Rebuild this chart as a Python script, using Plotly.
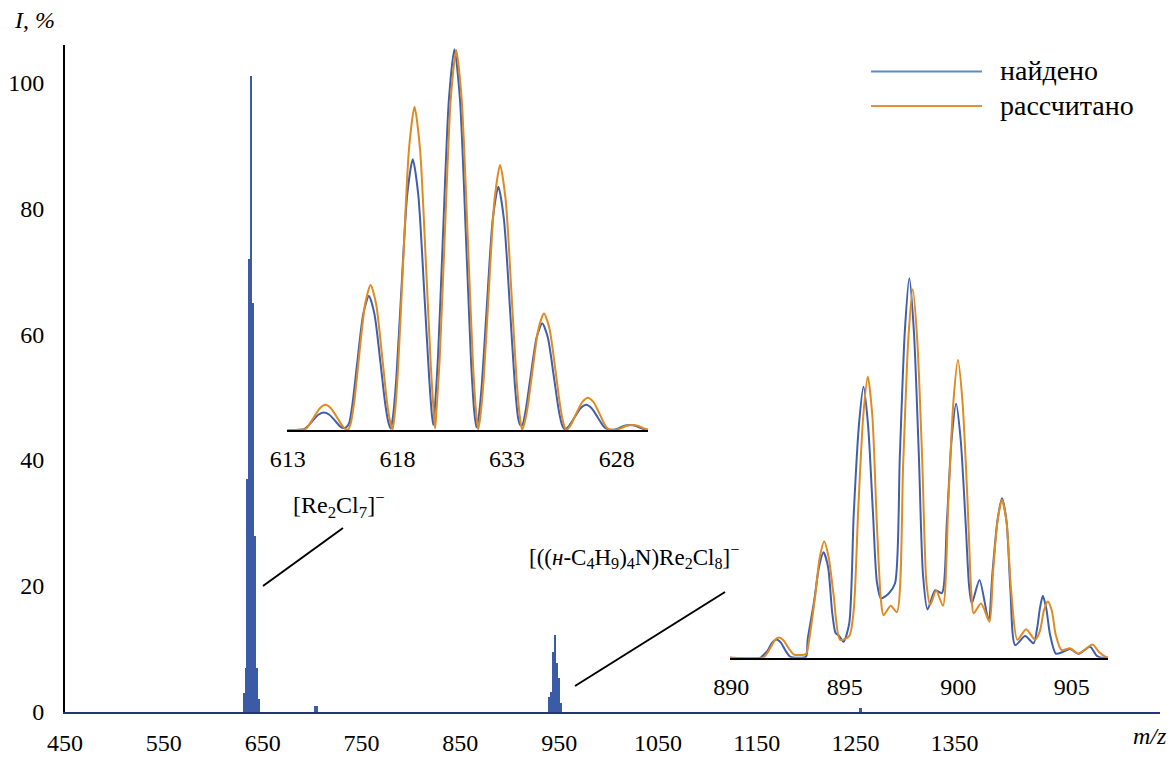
import plotly.graph_objects as go

# ---------------- data ----------------
# main spectrum sticks (m/z, intensity %)
main_mz = [631.2, 633.2, 634.7, 636.7, 638.6, 640.3, 642.3, 644.3, 646.4,
           704.0,
           939.9, 941.9, 943.9, 945.9, 947.9, 950.0, 952.0,
           1254.7]
main_int = [3, 7, 37, 72, 101, 65, 28, 7, 2,
            1.0,
            2.4, 3.2, 9.6, 12.2, 7.8, 5.4, 1.4,
            0.6]
main_w = [2.0, 2.0, 2.0, 2.0, 1.4, 2.0, 2.0, 2.0, 2.0,
          4.0,
          2.0, 2.0, 2.0, 1.5, 2.0, 2.0, 2.0,
          3.0]

main_ticks = [450, 550, 650, 750, 850, 950, 1050, 1150, 1250, 1350]
y_ticks = [0, 20, 40, 60, 80, 100]

# inset 1: [Re2Cl7]- isotope profile
in1_found_x = [613.0, 613.75, 613.9, 614.12, 614.4, 614.65, 614.9, 615.18, 615.4, 615.55, 615.68,
               615.8, 615.95, 616.17, 616.45, 616.7, 616.95, 617.23, 617.45, 617.6, 617.7,
               617.8, 617.95, 618.17, 618.45, 618.7, 618.95, 619.23, 619.45, 619.58, 619.64,
               619.7, 619.85, 620.07, 620.35, 620.6, 620.85, 621.13, 621.35, 621.5, 621.6,
               621.7, 621.85, 622.07, 622.35, 622.6, 622.85, 623.13, 623.35, 623.5, 623.6,
               623.7, 623.85, 624.07, 624.35, 624.6, 624.85, 625.13, 625.35, 625.5, 625.6,
               625.7, 625.85, 626.07, 626.35, 626.6, 626.85, 627.13, 627.35, 627.5, 627.7,
               627.9, 628.1, 628.35, 628.6, 628.85, 629.1, 629.3, 629.42]
in1_found_y = [0, 0.2, 0.9, 2.3, 4.0, 4.6, 4.0, 2.3, 0.9, 0.5, 0.8,
               1.8, 6.7, 17.6, 30.6, 35.2, 30.6, 17.6, 6.7, 1.8, 0.4,
               3.6, 13.5, 35.6, 61.9, 71.1, 61.9, 35.6, 13.5, 3.6, 1.3,
               5, 19, 50, 87, 100, 87, 50, 19, 5, 0.7,
               3.2, 12.1, 32, 55.6, 63.9, 55.6, 32, 12.1, 3.2, 1.3,
               1.4, 5.3, 14, 24.4, 28, 24.4, 14, 5.3, 1.4, 0.3,
               0.4, 1.3, 3.3, 5.7, 6.6, 5.7, 3.3, 1.3, 0.4, 0.1,
               0.1, 0.5, 1.1, 1.3, 1.1, 0.5, 0.1, 0]
in1_calc_x = [613.0, 613.82, 613.97, 614.19, 614.47, 614.72, 614.97, 615.25, 615.47, 615.62, 615.75,
              615.88, 616.03, 616.25, 616.53, 616.78, 617.03, 617.31, 617.53, 617.68, 617.78,
              617.88, 618.03, 618.25, 618.53, 618.78, 619.03, 619.31, 619.53, 619.66, 619.72,
              619.78, 619.93, 620.15, 620.43, 620.68, 620.93, 621.21, 621.43, 621.58, 621.68,
              621.78, 621.93, 622.15, 622.43, 622.68, 622.93, 623.21, 623.43, 623.58, 623.68,
              623.78, 623.93, 624.15, 624.43, 624.68, 624.93, 625.21, 625.43, 625.58, 625.68,
              625.78, 625.93, 626.15, 626.43, 626.68, 626.93, 627.21, 627.43, 627.58, 627.75,
              628.0, 628.2, 628.45, 628.7, 628.95, 629.2, 629.42]
in1_calc_y = [0, 0.3, 1.3, 3.3, 5.7, 6.6, 5.7, 3.3, 1.3, 0.3, 0.1,
              1.9, 7.2, 19.1, 33.1, 38.1, 33.1, 19.1, 7.2, 1.9, 0.1,
              4.2, 16.1, 42.5, 73.9, 84.9, 73.9, 42.5, 16.1, 4.2, 0.4,
              5, 19, 49.9, 86.8, 99.8, 86.8, 49.9, 19, 5, 0.1,
              3.5, 13.2, 34.8, 60.6, 69.6, 60.6, 34.8, 13.2, 3.5, 0.1,
              1.5, 5.8, 15.3, 26.6, 30.6, 26.6, 15.3, 5.8, 1.5, 0.1,
              0.4, 1.6, 4.3, 7.4, 8.5, 7.4, 4.3, 1.6, 0.4, 0.1,
              0.1, 0.5, 1.1, 1.3, 1.1, 0.5, 0.1]
in1_tickvals = [613, 618, 623, 628]
in1_ticktext = ["613", "618", "633", "628"]

# inset 2: [((n-C4H9)4N)Re2Cl8]- isotope profile
in2_found_x = [889.95, 891.3, 891.4, 891.6, 891.8, 892.0, 892.2, 892.4, 892.6, 893.0, 893.3,
               893.37, 893.65, 893.87, 894.07, 894.27, 894.45, 894.6, 894.75, 894.95,
               895.2, 895.4, 895.63, 895.83, 896.03, 896.25, 896.42, 896.6, 896.95, 897.22,
               897.43, 897.65, 897.85, 898.05, 898.27, 898.45, 898.65, 898.99, 899.28,
               899.5, 899.71, 899.91, 900.11, 900.33, 900.48, 900.6, 900.94, 901.34,
               901.51, 901.73, 901.93, 902.13, 902.3, 902.51, 902.95, 903.32,
               903.5, 903.6, 903.73, 903.88, 904.05, 904.3, 904.6, 904.93, 905.3,
               905.81, 906.1, 906.3, 906.6]
in2_found_y = [0, 0, 0.6, 1.8, 3.9, 4.8, 3.9, 1.8, 0.3, 0, 0.3,
               4.7, 14.7, 23.9, 27.8, 23.9, 12, 6.5, 5.8, 4.2,
               9, 37.8, 61.4, 71.4, 61.4, 37.8, 20, 15.6, 17.0, 19.6,
               53, 86, 100, 86, 53, 22, 12.7, 17.8, 17,
               35.5, 57.5, 66.9, 57.5, 35.5, 19, 14.3, 20.5, 9.9,
               22.3, 36.1, 42, 36, 18, 3.3, 5.7, 3.8,
               8.6, 13, 16.3, 13, 6, 1.1, 1.5, 2.3, 1.0,
               2.9, 0.5, 0, 0]
in2_calc_x = [889.95, 891.4, 891.55, 891.75, 891.92, 892.1, 892.3, 892.5, 892.75, 893.0, 893.3,
              893.45, 893.7, 893.9, 894.1, 894.3, 894.52, 894.8, 895.2,
              895.4, 895.6, 895.82, 896.02, 896.22, 896.42, 896.6, 896.71, 897.03, 897.3,
              897.58, 897.8, 898.0, 898.2, 898.42, 898.6, 898.77, 899.03, 899.33,
              899.57, 899.79, 899.99, 900.19, 900.41, 900.58, 900.68, 901.01, 901.38,
              901.53, 901.73, 901.93, 902.13, 902.33, 902.61, 902.99, 903.39,
              903.6, 903.78, 903.95, 904.12, 904.3, 904.55, 904.93, 905.3,
              905.92, 906.2, 906.5, 906.6]
in2_calc_y = [0, 0, 0.9, 2.8, 4.6, 5.3, 4.6, 2.8, 0.9, 0.7, 1.0,
              5.2, 16.2, 26.3, 30.6, 26.3, 16.2, 4.7, 5.7,
              12.6, 39.3, 63.7, 74.1, 63.7, 35, 15, 11.2, 13.7, 12,
              51.5, 83.5, 97.1, 83.5, 51.5, 20, 13.9, 17.7, 13.7,
              41.6, 67.5, 78.5, 67.5, 41.6, 17, 11.7, 14.3, 9.5,
              22, 35.8, 41.6, 35.8, 18, 4.7, 7.5, 4.7,
              7, 12.5, 14.8, 12.5, 6, 2, 2.5, 1.1,
              3.5, 1.5, 0.2, 0]
in2_tickvals = [890, 895, 900, 905]
in2_ticktext = ["890", "895", "900", "905"]

legend_labels = ["найдено", "рассчитано"]

# ---------------- style ----------------
FONT = "Liberation Serif, Times New Roman, serif"
BLUE_MAIN = "#3b5ba6"
BLUE = "#3f5fae"
ORANGE = "#e08a22"
BLUE_LEG = "#5a8ccc"
ORANGE_LEG = "#e0913a"

W, H = 1172, 758
ML, MR, MT, MB = 65, 12, 45, 46
PW, PH = W - ML - MR, H - MT - MB


def px(x):
    return (x - ML) / PW


def py(y):
    return (H - MB - y) / PH


fig = go.Figure()

fig.add_trace(go.Bar(x=main_mz, y=main_int, width=main_w,
                     marker=dict(color=BLUE_MAIN, line=dict(width=0)),
                     xaxis="x", yaxis="y", showlegend=False, hoverinfo="skip"))

for xs, ys, col, ax, ay in [
    (in1_found_x, in1_found_y, BLUE, "x2", "y2"),
    (in1_calc_x, in1_calc_y, ORANGE, "x2", "y2"),
    (in2_found_x, in2_found_y, BLUE, "x3", "y3"),
    (in2_calc_x, in2_calc_y, ORANGE, "x3", "y3"),
]:
    fig.add_trace(go.Scatter(x=xs, y=ys, mode="lines",
                             line=dict(color=col, width=2, shape="spline", smoothing=0.7),
                             xaxis=ax, yaxis=ay, showlegend=False, hoverinfo="skip"))

tickfont = dict(family=FONT, size=24, color="black")
common = dict(ticks="", showgrid=False, zeroline=False, automargin=False, tickfont=tickfont)

fig.update_layout(
    width=W, height=H,
    autosize=False,
    margin=dict(l=ML, r=MR, t=MT, b=MB, pad=0, autoexpand=False),
    paper_bgcolor="white", plot_bgcolor="white",
    font=dict(family=FONT, size=24, color="black"),
    barmode="overlay",
    bargap=0,
    xaxis=dict(domain=[0, 1], range=[450, 1558], tickvals=main_ticks,
               ticktext=[str(t) for t in main_ticks],
               showline=True, linecolor="#25357a", linewidth=1.5,
               ticklabelstandoff=8, **common),
    yaxis=dict(domain=[0, 1], range=[0, 105.9], tickvals=y_ticks,
               showline=True, linecolor="black", linewidth=2,
               ticklabelstandoff=14, **common),
    xaxis2=dict(domain=[px(287), px(648)], anchor="y2", range=[612.97, 629.42],
                tickvals=in1_tickvals, ticktext=in1_ticktext,
                showline=True, linecolor="black", linewidth=2,
                ticklabelstandoff=6, **common),
    yaxis2=dict(domain=[py(430), 1.0], anchor="x2", range=[0, 101.1], visible=False),
    xaxis3=dict(domain=[px(730), px(1108)], anchor="y3", range=[889.95, 906.6],
                tickvals=in2_tickvals, ticktext=in2_ticktext,
                showline=True, linecolor="black", linewidth=2,
                ticklabelstandoff=6, **common),
    yaxis3=dict(domain=[py(657.7), py(260)], anchor="x3", range=[0, 104.8], visible=False),
)

shapes = [
    dict(type="line", xref="paper", yref="paper", x0=px(263), y0=py(586), x1=px(343), y1=py(528),
         line=dict(color="black", width=2)),
    dict(type="line", xref="paper", yref="paper", x0=px(575), y0=py(686), x1=px(725), y1=py(592),
         line=dict(color="black", width=2)),
    dict(type="line", xref="paper", yref="paper", x0=px(871), y0=py(71.5), x1=px(982), y1=py(71.5),
         line=dict(color=BLUE_LEG, width=2)),
    dict(type="line", xref="paper", yref="paper", x0=px(871), y0=py(106), x1=px(982), y1=py(106),
         line=dict(color=ORANGE_LEG, width=2)),
]
fig.update_layout(shapes=shapes)

annots = [
    dict(text=legend_labels[0], x=px(998), y=py(70), xanchor="left", yanchor="middle", size=28),
    dict(text=legend_labels[1], x=px(998), y=py(105), xanchor="left", yanchor="middle", size=28),
    dict(text="[Re<sub>2</sub>Cl<sub>7</sub>]<sup>−</sup>", x=px(339), y=py(505),
         xanchor="center", yanchor="middle", size=24),
    dict(text="[((<i>н</i>-C<sub>4</sub>H<sub>9</sub>)<sub>4</sub>N)Re<sub>2</sub>Cl<sub>8</sub>]<sup>−</sup>",
         x=px(634), y=py(556), xanchor="center", yanchor="middle", size=23),
    dict(text="<i>I</i>, <i>%</i>", x=px(12), y=py(20), xanchor="left", yanchor="middle", size=24),
    dict(text="<i>m/z</i>", x=px(1150), y=py(736), xanchor="center", yanchor="middle", size=24),
]
for a in annots:
    s = a.pop("size")
    fig.add_annotation(xref="paper", yref="paper", showarrow=False,
                       font=dict(family=FONT, size=s, color="black"), **a)

fig.write_html(
    "out.html",
    config={"displayModeBar": False},
    post_script="document.body.style.margin='0';document.body.style.overflow='hidden';",
)
